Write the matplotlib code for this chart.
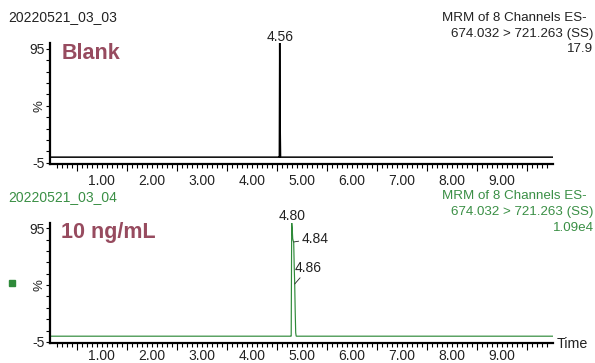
import matplotlib
matplotlib.use("Agg")
import matplotlib.pyplot as plt
from matplotlib.ticker import FixedLocator, FuncFormatter

plt.rcParams['font.family'] = ['Liberation Sans', 'DejaVu Sans']

# ---------------- data ----------------
blank_time = [-0.05, 4.545, 4.553, 4.56, 4.565, 4.57, 4.577, 10.05]
blank_int = [0, 0, 0, 100, 50, 24, 0, 0]

std_time = [-0.05, 4.78, 4.79, 4.80, 4.81, 4.82, 4.83, 4.84, 4.85, 4.86, 4.87, 4.88, 4.89, 10.05]
std_int = [0, 0, 0, 100, 95, 86, 84, 83, 62, 46, 22, 3, 0, 0]

x_tick_labels = ["1.00", "2.00", "3.00", "4.00", "5.00", "6.00", "7.00", "8.00", "9.00"]
x_tick_values = [1, 2, 3, 4, 5, 6, 7, 8, 9]

top_title = "20220521_03_03"
bot_title = "20220521_03_04"
top_info = ["MRM of 8 Channels ES-", "674.032 > 721.263 (SS)", "17.9"]
bot_info = ["MRM of 8 Channels ES-", "674.032 > 721.263 (SS)", "1.09e4"]
top_sample = "Blank"
bot_sample = "10 ng/mL"

top_peaks = [("4.56", 4.56, 100)]
bot_peaks = [("4.80", 4.80, 100), ("4.84", 4.84, 83), ("4.86", 4.86, 46)]

# ---------------- style ----------------
W, H = 595, 363
DPI = 100
TXT = '#222222'
GREEN = '#3a8f45'
TRACE_GREEN = '#2f8a3a'
ROSE = '#974b5f'

fig = plt.figure(figsize=(W / DPI, H / DPI), dpi=DPI)

def px(x, y):
    return x / W, 1 - y / H

XLIM = (-0.034, 10.026)
YLIM = (-6, 100)

def setup_axes(ax, label_pad):
    ax.set_xlim(*XLIM)
    ax.set_ylim(*YLIM)
    for s in ['top', 'right']:
        ax.spines[s].set_visible(False)
    for s in ['left', 'bottom']:
        ax.spines[s].set_linewidth(1.6)
        ax.spines[s].set_color('black')
    # x ticks: long at x.5, short every 0.1; labels at integers
    ax.xaxis.set_major_locator(FixedLocator([i + 0.5 for i in range(10)]))
    ax.xaxis.set_major_formatter(FuncFormatter(lambda v, p: ""))
    minors = [round(i * 0.1, 1) for i in range(1, 100) if i % 5 != 0 or i % 10 == 0]
    ax.xaxis.set_minor_locator(FixedLocator(minors))
    lab = dict(zip(x_tick_values, x_tick_labels))
    def fmt(v, p):
        r = round(v)
        if abs(v - r) < 1e-6 and r in lab:
            return lab[r]
        return ""
    ax.xaxis.set_minor_formatter(FuncFormatter(fmt))
    ax.tick_params(axis='x', which='major', length=5, width=0.8, direction='out',
                   color='black')
    ax.tick_params(axis='x', which='minor', length=3, width=0.8, direction='out',
                   color='black', labelsize=10, labelcolor=TXT, pad=label_pad)
    # y ticks
    ax.yaxis.set_major_locator(FixedLocator([-5 + 10 * i for i in range(11)]))
    def yfmt(v, p):
        if abs(v - 95) < 1e-6:
            return "95"
        if abs(v + 5) < 1e-6:
            return "-5"
        return ""
    ax.yaxis.set_major_formatter(FuncFormatter(yfmt))
    ax.tick_params(axis='y', which='major', length=3, width=0.8, direction='out',
                   color='black', labelsize=10, labelcolor=TXT, pad=1)
    ax.text(-0.008, (45 - YLIM[0]) / (YLIM[1] - YLIM[0]), "%", rotation=90,
            transform=ax.transAxes, ha='right', va='center', fontsize=9.5, color=TXT)

ax1 = fig.add_axes([50 / W, 1 - 164 / H, 503 / W, 121 / H])
ax2 = fig.add_axes([50 / W, 1 - 343 / H, 503 / W, 120.3 / H])
setup_axes(ax1, 4.5)
setup_axes(ax2, 1.0)

ax1.plot(blank_time, blank_int, color='black', lw=1.1, solid_joinstyle='miter')
ax2.plot(std_time, std_int, color=TRACE_GREEN, lw=0.85, solid_joinstyle='miter')

# peak labels
lbl, t, v = top_peaks[0]
ax1.annotate(lbl, xy=(t, v), xytext=(0, 1.5), textcoords='offset points',
             ha='center', va='baseline', fontsize=10, color=TXT, annotation_clip=False)
lbl, t, v = bot_peaks[0]
ax2.annotate(lbl, xy=(t, v), xytext=(0, 1.8), textcoords='offset points',
             ha='center', va='baseline', fontsize=10, color=TXT, annotation_clip=False)
lbl, t, v = bot_peaks[1]
ax2.annotate(lbl, xy=(t, v), xytext=(5.6, 2.5), textcoords='offset points',
             ha='left', va='center', fontsize=10, color=TXT,
             arrowprops=dict(arrowstyle='-', color=TXT, lw=0.6, shrinkA=0, shrinkB=0))
lbl, t, v = bot_peaks[2]
ax2.annotate(lbl, xy=(t, v), xytext=(0.3, 11.5), textcoords='offset points',
             ha='left', va='center', fontsize=10, color=TXT,
             arrowprops=dict(arrowstyle='-', color=TXT, lw=0.6, shrinkA=0, shrinkB=0))

# titles
fig.text(*px(8, 17), top_title, ha='left', va='center', fontsize=10, color=TXT)
fig.text(*px(8, 196.7), bot_title, ha='left', va='center', fontsize=10, color=GREEN)

info_y_top = [18.3, 33.6, 49.3]
info_x = [587, 593.5, 593.5]
for s, xx, yy in zip(top_info, info_x, info_y_top):
    fig.text(*px(xx, yy), s, ha='right', va='center', fontsize=9.6, color=TXT)
info_y_bot = [196.3, 212.3, 228.3]
for s, xx, yy in zip(bot_info, info_x, info_y_bot):
    fig.text(*px(xx, yy), s, ha='right', va='center', fontsize=9.6, color=GREEN)

# sample names
fig.text(*px(61.5, 53.5), top_sample, ha='left', va='center', fontsize=15.5,
         fontweight='bold', color=ROSE)
fig.text(*px(61.5, 232.7), bot_sample, ha='left', va='center', fontsize=15.5,
         fontweight='bold', color=ROSE)

# Time label
fig.text(*px(556.5, 343.5), "Time", ha='left', va='center', fontsize=10.3, color=TXT)

# green legend square
fig.patches.append(matplotlib.patches.Rectangle(px(9, 285.5), 6 / W, 6 / H,
                   transform=fig.transFigure, color=TRACE_GREEN, figure=fig))

fig.savefig("out.png", dpi=DPI)
